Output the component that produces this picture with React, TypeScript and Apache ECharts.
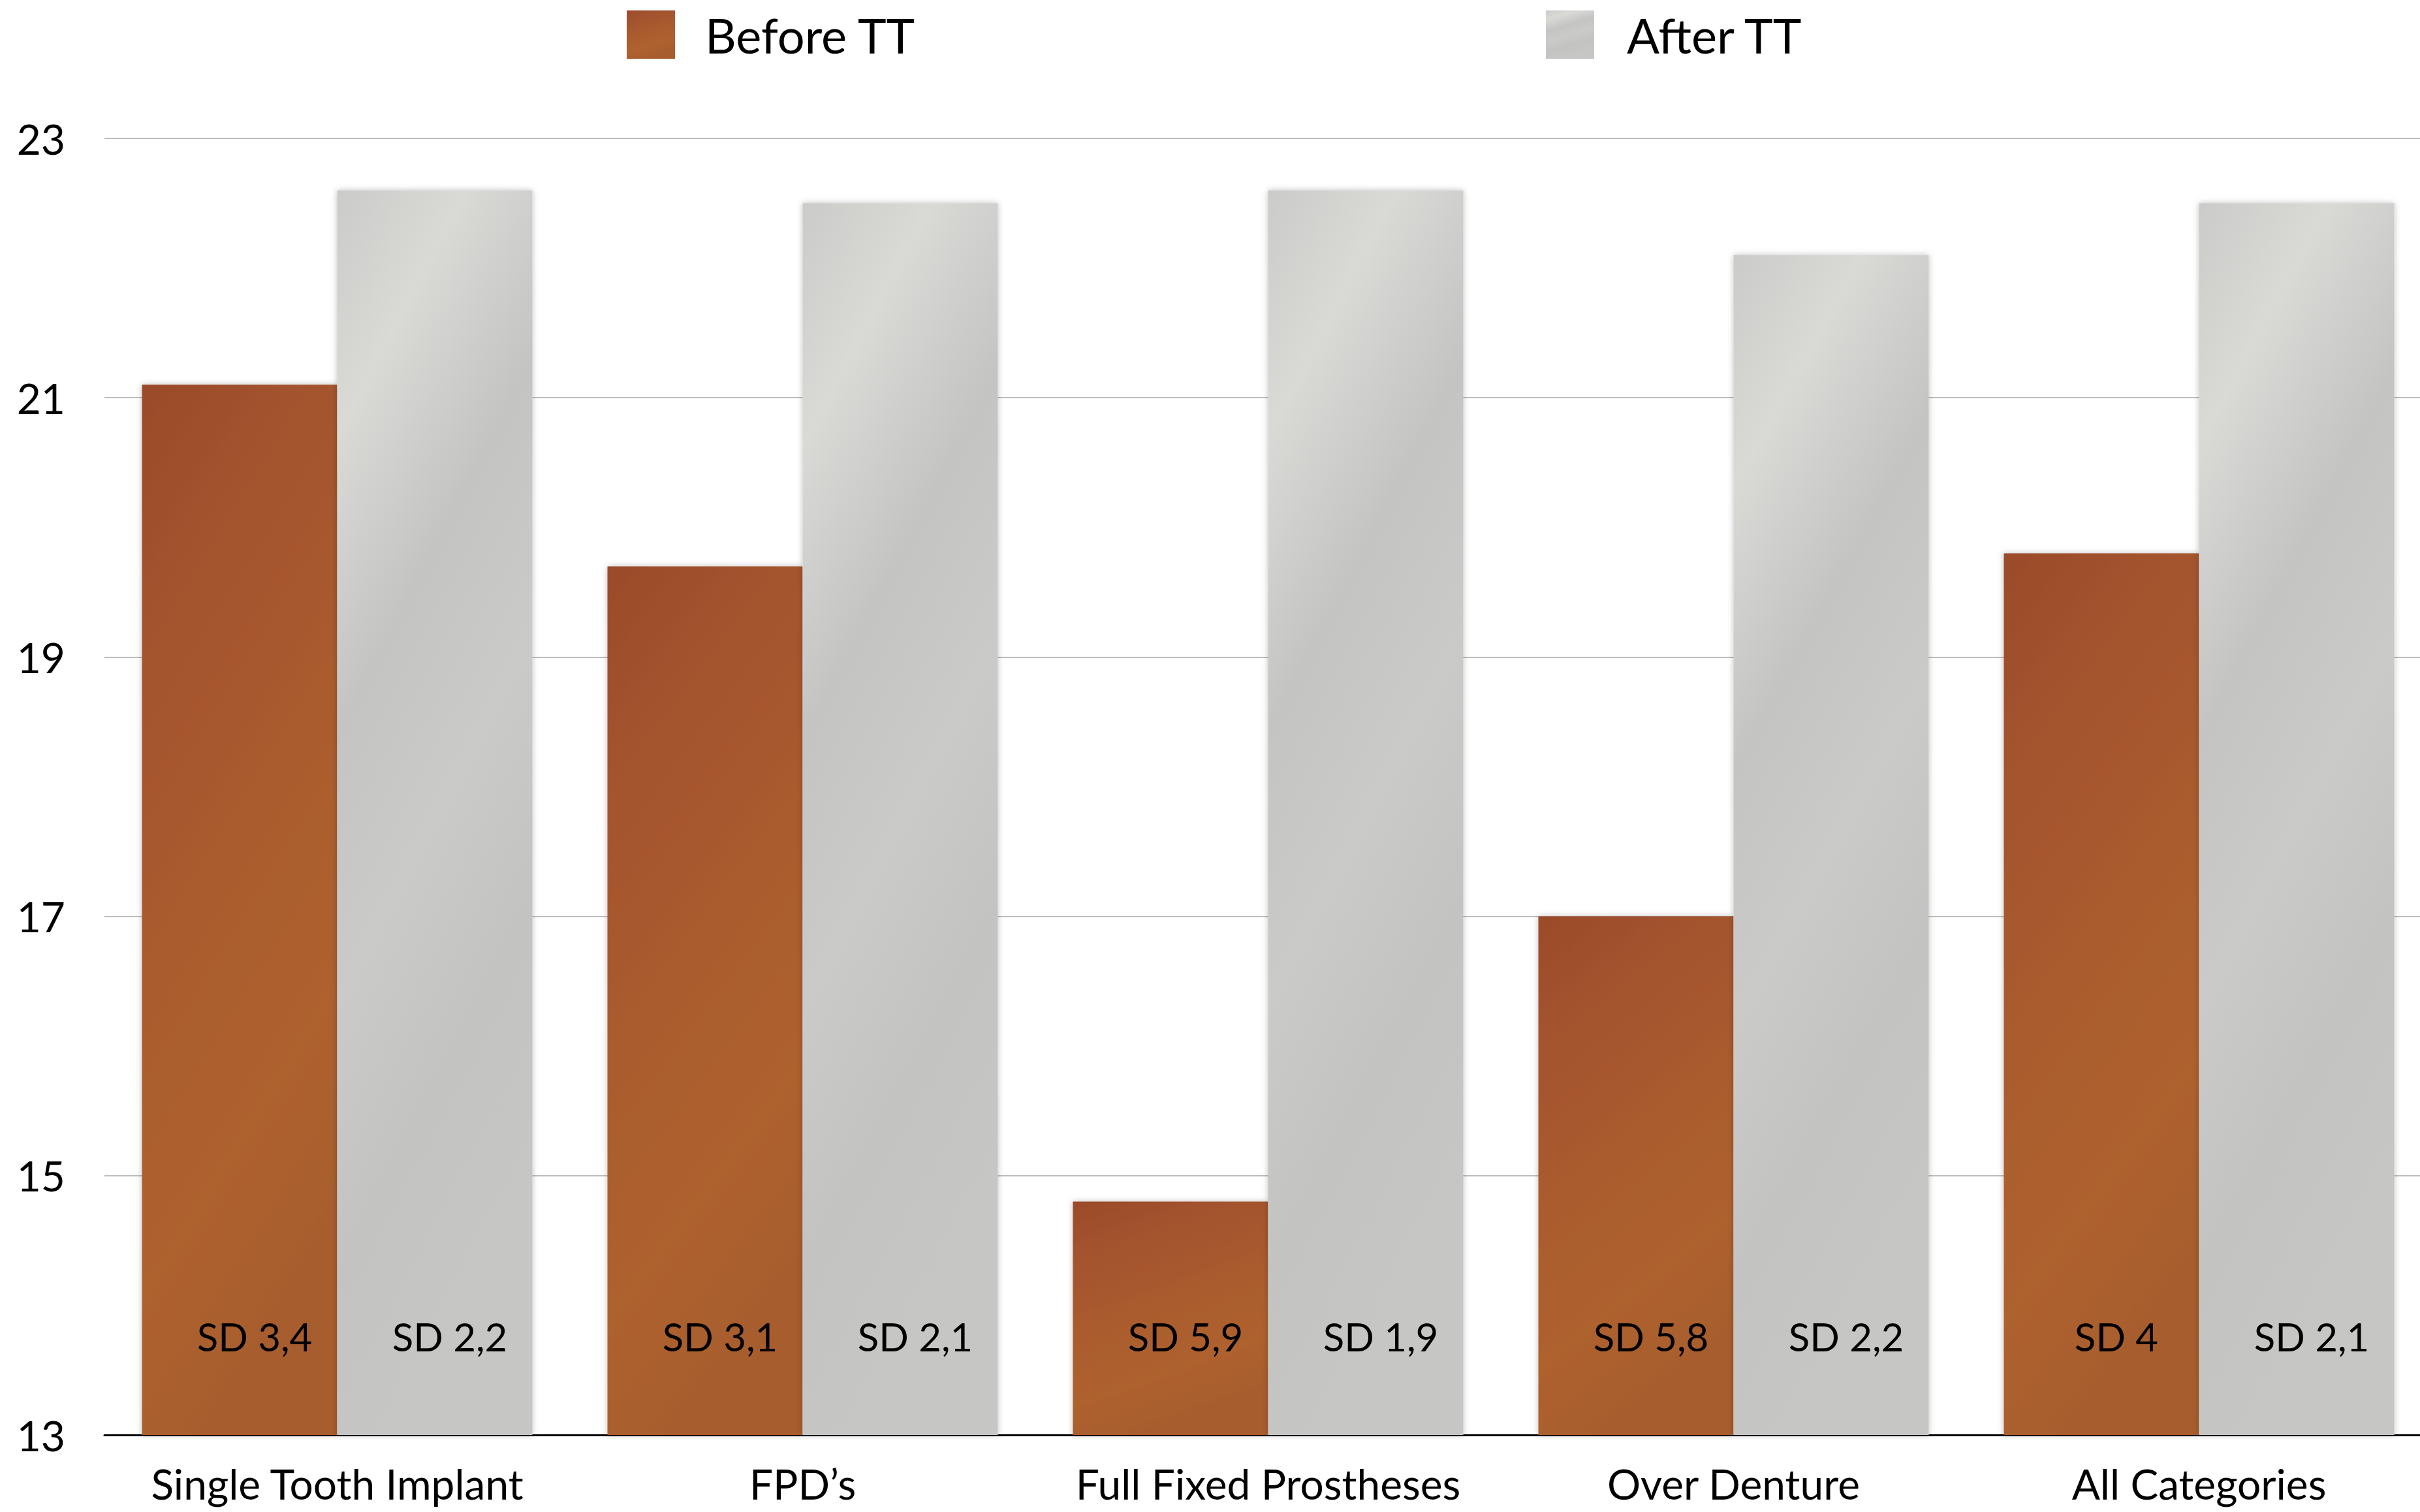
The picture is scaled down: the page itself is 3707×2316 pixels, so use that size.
import React, { useEffect, useRef } from "react";
import * as echarts from "echarts";

const categories = ["Single Tooth Implant", "FPD’s", "Full Fixed Prostheses", "Over Denture", "All Categories"];
const beforeValues = [21.1, 19.7, 14.8, 17.0, 19.8];
const afterValues = [22.6, 22.5, 22.6, 22.1, 22.5];
const beforeSD = ["3,4", "3,1", "5,9", "5,8", "4"];
const afterSD = ["2,2", "2,1", "1,9", "2,2", "2,1"];
const seriesNames = ["Before TT", "After TT"];

const FONT = "'Gill Sans', 'Gill Sans MT', Lato, 'Open Sans', sans-serif";

const copper = {
  type: "linear",
  x: 0, y: 0, x2: 0.3, y2: 1,
  colorStops: [
    { offset: 0, color: "#9B4B2B" },
    { offset: 0.25, color: "#A4542E" },
    { offset: 0.55, color: "#AB5C2E" },
    { offset: 0.8, color: "#AE622F" },
    { offset: 1, color: "#A85D2E" },
  ],
};

const metal = {
  type: "linear",
  x: 0, y: 0, x2: 0.3, y2: 1,
  colorStops: [
    { offset: 0, color: "#CBCBC9" },
    { offset: 0.18, color: "#D9D9D6" },
    { offset: 0.4, color: "#C4C4C3" },
    { offset: 0.6, color: "#CACAC8" },
    { offset: 0.8, color: "#C3C3C2" },
    { offset: 1, color: "#C6C6C4" },
  ],
};

export default function App() {
  const ref = useRef<HTMLDivElement>(null);
  useEffect(() => {
    document.body.style.margin = "0";
    document.body.style.overflow = "hidden";
    document.documentElement.style.overflow = "hidden";
    if (!ref.current) return;
    const chart = echarts.init(ref.current, undefined, { renderer: "svg" });
    const labelCommon = {
      show: true,
      position: "insideBottom",
      distance: 151,
      verticalAlign: "middle",
      offset: [23, 0],
      fontFamily: FONT,
      fontSize: 60,
      color: "#000",
    };
    chart.setOption({
      animation: false,
      backgroundColor: "#ffffff",
      textStyle: { fontFamily: FONT },
      legend: [
        {
          data: [seriesNames[0]],
          left: 955,
          top: 11,
          itemWidth: 74,
          itemHeight: 74,
          icon: "rect",
          textStyle: { fontSize: 74, color: "#000", fontFamily: FONT, padding: [0, 0, 0, 41] },
        },
        {
          data: [seriesNames[1]],
          left: 2363,
          top: 11,
          itemWidth: 74,
          itemHeight: 74,
          icon: "rect",
          textStyle: { fontSize: 74, color: "#000", fontFamily: FONT, padding: [0, 0, 0, 45] },
        },
      ],
      grid: { left: 160, right: 0, top: 212, bottom: 118, containLabel: false },
      xAxis: {
        type: "category",
        data: categories,
        axisTick: { show: false },
        axisLine: { show: true, lineStyle: { color: "#000", width: 3 } },
        axisLabel: { fontSize: 64, color: "#000", fontFamily: FONT, margin: 42, interval: 0 },
      },
      yAxis: {
        type: "value",
        min: 13,
        max: 23,
        interval: 2,
        axisLine: { show: false },
        axisTick: { show: false },
        axisLabel: { fontSize: 64, color: "#000", fontFamily: FONT, margin: 60 },
        splitLine: { lineStyle: { color: "#BDBDBD", width: 2 } },
      },
      series: [
        {
          name: seriesNames[0],
          type: "bar",
          data: beforeValues,
          barWidth: 299,
          barGap: "0%",
          itemStyle: { color: copper, shadowColor: "rgba(0,0,0,0.25)", shadowBlur: 10 },
          label: { ...labelCommon, formatter: (p: any) => "SD " + beforeSD[p.dataIndex] },
        },
        {
          name: seriesNames[1],
          type: "bar",
          data: afterValues,
          barWidth: 299,
          barGap: "0%",
          itemStyle: { color: metal, shadowColor: "rgba(0,0,0,0.25)", shadowBlur: 10 },
          label: { ...labelCommon, formatter: (p: any) => "SD " + afterSD[p.dataIndex] },
        },
      ],
    });
    return () => chart.dispose();
  }, []);
  return <div ref={ref} style={{ width: 3725, height: 2316 }} />;
}
